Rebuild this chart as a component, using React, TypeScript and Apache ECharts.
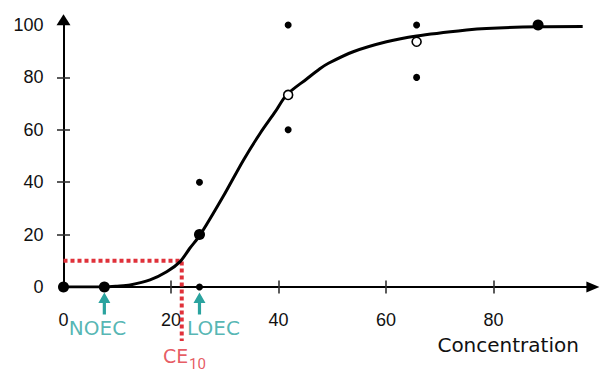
import React, { useEffect, useRef } from "react";
import * as echarts from "echarts";

// Fitted dose-response curve
const curvePoints: [number, number][] = [
  [0, 0], [7.6, 0], [10, 0.3], [12.4, 0.8], [16.1, 2.7], [19.2, 5.8],
  [21.7, 9.7], [23.5, 14.8], [25.4, 19.8], [29.7, 34.5], [33.5, 48.5],
  [36.6, 58.7], [39.4, 66.9], [41.5, 73.3], [45.3, 79.5], [47.7, 83.3],
  [49.3, 85.4], [53.9, 89.8], [60.1, 93.6], [65.7, 95.8], [75, 98.1],
  [78.7, 98.7], [88.3, 99.3], [96.6, 99.4],
];
// Individual replicate responses
const replicates: [number, number][] = [
  [25.3, 40], [25.3, 0], [41.8, 100], [41.8, 60], [65.7, 100], [65.7, 80],
];
// Filled mean points
const filledMeans: [number, number][] = [[0, 0], [7.6, 0], [25.3, 20], [88.3, 100]];
// Open mean points
const openMeans: [number, number][] = [[41.8, 73.3], [65.7, 93.6]];
// EC10 guide
const ec10Conc = 22;
const ec10Effect = 10;
const noecConc = 7.6;
const loecConc = 25.3;

const xTickLabels = [0, 20, 40, 60, 80];
const yTickLabels = [0, 20, 40, 60, 80, 100];
const innerTicks = [20, 40, 60, 80];

const TEAL = "#2aa39f";
const RED = "#e0313a";

export default function App() {
  const ref = useRef<HTMLDivElement>(null);
  useEffect(() => {
    if (!ref.current) return;
    const chart = echarts.init(ref.current, undefined, { renderer: "svg" });
    const tickStyle = { color: "#333", width: 1.6 };
    const arrowPath = "path://M6,0 L12,10 L7.6,10 L7.6,21 L4.4,21 L4.4,10 L0,10 Z";
    const labelBase = { show: true, position: "right" as const, distance: 0 };
    chart.setOption({
      animation: false,
      grid: { left: 63.5, right: 13.1, top: 19.76, bottom: 85, containLabel: false },
      xAxis: [
        {
          type: "value", min: 0, max: 98.5,
          name: "Concentration", nameLocation: "end", nameGap: -14,
          nameTextStyle: { align: "right", verticalAlign: "top", padding: [48, 0, 0, 0], fontFamily: "DejaVu Sans", fontSize: 20, color: "#111" },
          axisLine: { show: true, symbol: ["none", "triangle"], symbolSize: [11, 13], lineStyle: { color: "#000", width: 2 } },
          axisTick: { show: true, customValues: innerTicks, length: 6.5, lineStyle: tickStyle },
          axisLabel: { customValues: xTickLabels, margin: 24, fontSize: 18, fontFamily: "Liberation Sans", color: "#111" },
          splitLine: { show: false },
        },
        {
          type: "value", min: 0, max: 98.5, position: "bottom",
          axisLine: { show: false },
          axisTick: { show: true, inside: true, customValues: innerTicks, length: 6.5, lineStyle: tickStyle },
          axisLabel: { show: false },
          splitLine: { show: false },
        },
      ],
      yAxis: [
        {
          type: "value", min: 0, max: 102,
          axisLine: { show: true, symbol: ["none", "triangle"], symbolSize: [14, 11], lineStyle: { color: "#000", width: 2 } },
          axisTick: { show: true, customValues: innerTicks, length: 6.5, lineStyle: tickStyle },
          axisLabel: { customValues: yTickLabels, margin: 20, fontSize: 18, fontFamily: "Liberation Sans", color: "#111" },
          splitLine: { show: false },
        },
        {
          type: "value", min: 0, max: 102, position: "left",
          axisLine: { show: false },
          axisTick: { show: true, inside: true, customValues: innerTicks, length: 6.5, lineStyle: tickStyle },
          axisLabel: { show: false },
          splitLine: { show: false },
        },
      ],
      series: [
        {
          type: "line", data: [[0, ec10Effect], [ec10Conc, ec10Effect], [ec10Conc, -20.6]],
          clip: false, symbol: "none", z: 2,
          lineStyle: { color: RED, width: 4, type: [4, 3], cap: "butt" },
        },
        {
          type: "line", data: curvePoints, smooth: 0.3, symbol: "none", z: 3,
          lineStyle: { color: "#000", width: 3 },
        },
        {
          type: "scatter", data: replicates, symbolSize: 7, z: 4,
          itemStyle: { color: "#000", opacity: 1 },
        },
        {
          type: "scatter", data: filledMeans, symbolSize: 11, clip: false, z: 4,
          itemStyle: { color: "#000", opacity: 1 },
        },
        {
          type: "scatter", data: openMeans, symbolSize: 9, z: 5,
          itemStyle: { color: "#fff", borderColor: "#000", borderWidth: 1.6, opacity: 1 },
        },
        {
          type: "scatter", data: [[noecConc, -6.3], [loecConc, -6.3]], clip: false,
          symbol: arrowPath, symbolSize: [12, 22], z: 5,
          itemStyle: { color: TEAL, opacity: 1 },
        },
        {
          type: "scatter", clip: false, symbolSize: 0, z: 6,
          itemStyle: { color: "transparent" },
          data: [
            { value: [1.0, -15.6], label: { ...labelBase, formatter: "NOEC", color: TEAL, fontSize: 20, fontFamily: "DejaVu Sans" } },
            { value: [23.0, -15.6], label: { ...labelBase, formatter: "LOEC", color: TEAL, fontSize: 20, fontFamily: "DejaVu Sans" } },
            { value: [18.5, -26.3], label: { ...labelBase, formatter: "CE", color: RED, fontSize: 19, fontFamily: "DejaVu Sans" } },
            { value: [23.35, -29.3], label: { ...labelBase, formatter: "10", color: RED, fontSize: 15, fontFamily: "Roboto" } },
          ],
        },
      ],
    });
    return () => chart.dispose();
  }, []);
  return (
    <div
      ref={ref}
      style={{ position: "fixed", left: 0, top: 0, width: 606, height: 372, background: "#fff" }}
    />
  );
}
